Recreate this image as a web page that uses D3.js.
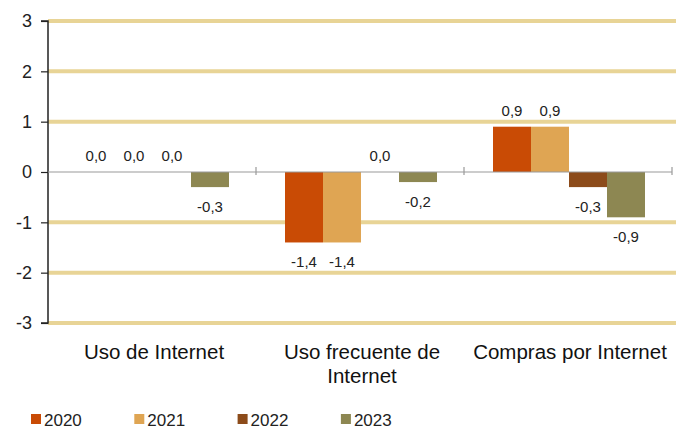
<!DOCTYPE html>
<html><head><meta charset="utf-8">
<script src="https://cdn.jsdelivr.net/npm/d3@7"></script>
<style>body{margin:0;background:#fff}svg{display:block;font-family:"Liberation Sans",Arial,sans-serif}</style>
</head><body>
<svg id="c" width="677" height="430"></svg>
<script>
const categories = [["Uso de Internet"], ["Uso frecuente de", "Internet"], ["Compras por Internet"]];
const series = ["2020", "2021", "2022", "2023"];
const v2020 = [0.0, -1.4, 0.9];
const v2021 = [0.0, -1.4, 0.9];
const v2022 = [0.0, 0.0, -0.3];
const v2023 = [-0.3, -0.2, -0.9];
const yTicks = [-3, -2, -1, 0, 1, 2, 3];
const colors = ["#c94b05", "#dfa553", "#8c4b1a", "#8d8752"];

const values = [v2020, v2021, v2022, v2023];
const svg = d3.select("#c");
const L = 48, R = 672, T = 21, B = 323;
const y = d3.scaleLinear().domain([-3, 3]).range([B, T]);
const x0 = d3.scaleBand().domain(d3.range(categories.length)).range([L, R]).padding(0);
const x1 = d3.scaleBand().domain(series).range([29, 181]).padding(0);
const fmt = v => d3.format(".1f")(v).replace(".", ",").replace("\u2212", "-");

// gridlines
svg.append("g").selectAll("line").data(yTicks.filter(t => t !== 0)).join("line")
  .attr("x1", L).attr("x2", 676).attr("y1", d => y(d)).attr("y2", d => y(d))
  .attr("stroke", "#e8d496").attr("stroke-width", 4);

// y axis
const ya = svg.append("g").attr("transform", `translate(${L},0)`)
  .call(d3.axisLeft(y).tickValues(yTicks).tickSize(7).tickPadding(9).tickFormat(d => String(d)));
ya.select(".domain").attr("stroke", "#222").attr("stroke-width", 1.5).attr("d", `M-7,${T}H0V${B}H-7`);
ya.selectAll(".tick line").attr("stroke", "#222").attr("stroke-width", 1.2);
ya.selectAll(".tick text").attr("font-size", 18).attr("fill", "#222").attr("font-family", "Liberation Sans, Arial, sans-serif");

// bars
categories.forEach((c, i) => {
  const g = svg.append("g").attr("transform", `translate(${x0(i)},0)`);
  series.forEach((s, j) => {
    const v = values[j][i];
    g.append("rect").attr("x", x1(s)).attr("width", x1.bandwidth())
      .attr("y", y(Math.max(0, v))).attr("height", Math.abs(y(v) - y(0)))
      .attr("fill", colors[j]);
  });
});

// zero line
svg.append("line").attr("x1", L).attr("x2", R).attr("y1", y(0)).attr("y2", y(0))
  .attr("stroke", "#999").attr("stroke-width", 1.2);
svg.append("g").selectAll("line").data(d3.range(1, categories.length + 1)).join("line")
  .attr("x1", d => L + d * x0.bandwidth()).attr("x2", d => L + d * x0.bandwidth())
  .attr("y1", y(0) - 5).attr("y2", y(0) + 3).attr("stroke", "#999").attr("stroke-width", 1.2);

// data labels
categories.forEach((c, i) => {
  series.forEach((s, j) => {
    const v = values[j][i];
    const cx = x0(i) + x1(s) + x1.bandwidth() / 2;
    const yy = v >= 0 ? y(v) - 11 : y(v) + 25;
    svg.append("text").attr("x", cx).attr("y", yy).attr("text-anchor", "middle")
      .attr("font-size", 15).attr("fill", "#222").text(fmt(v));
  });
});

// category labels
categories.forEach((lines, i) => {
  const t = svg.append("text").attr("text-anchor", "middle").attr("font-size", 20.5).attr("fill", "#111");
  lines.forEach((ln, k) => t.append("tspan").attr("x", x0(i) + x0.bandwidth() / 2 + 2).attr("y", 359 + k * 24).text(ln));
});

// legend
const lg = svg.append("g").attr("transform", "translate(31,414)");
series.forEach((s, j) => {
  const g = lg.append("g").attr("transform", `translate(${j * 103.3},0)`);
  g.append("rect").attr("width", 10).attr("height", 10).attr("fill", colors[j]);
  g.append("text").attr("x", 13).attr("y", 11.5).attr("font-size", 17).attr("fill", "#222").text(s);
});
</script>
</body></html>
